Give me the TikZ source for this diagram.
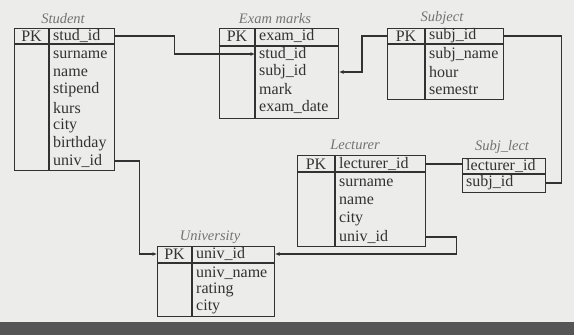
\documentclass[tikz,border=0pt]{standalone}
\usepackage{fontspec}
\setmainfont{Liberation Serif}
\usetikzlibrary{arrows.meta}

\definecolor{paper}{RGB}{236,236,234}
\definecolor{scanband}{RGB}{85,85,85}
\definecolor{ink}{RGB}{50,50,50}

\begin{document}
\begin{tikzpicture}[x=1pt,y=-1pt,
  every node/.style={text=ink,font=\fontsize{16}{18}\selectfont},
  tablebox/.style={draw=ink,line width=1.1pt,anchor=north west,inner sep=0pt},
  rule/.style={draw=ink,line width=1.1pt},
  field/.style={anchor=west,inner xsep=4pt,inner ysep=0pt},
  pk/.style={inner sep=0pt},
  tabletitle/.style={inner sep=0pt,text=black!55,font=\fontsize{14.5}{16}\selectfont\itshape},
  link/.style={draw=ink,line width=1.1pt},
  fk/.style={-{Latex[length=4.5pt,width=4pt]}}
]
  \useasboundingbox (0,0) rectangle (574,335);
  \fill[paper] (0,0) rectangle (574,335);
  \fill[scanband] (0,322) rectangle (574,335);

  % Student
  \node[tablebox,minimum width=100pt,minimum height=142pt] (student) at (14,28) {};
  \draw[rule] (49,28) -- (49,170) (14,44) -- (114,44);
  \node[tabletitle] (student-t) at (63,19) {Student};
  \node[pk] (student-pk) at (31.5,36) {PK};
  \node[field] (st-id) at (49,36) {stud\_id};
  \node[field] (st-surname) at (49,55) {surname};
  \node[field] (st-name) at (49,73) {name};
  \node[field] (st-stipend) at (49,90) {stipend};
  \node[field] (st-kurs) at (49,108) {kurs};
  \node[field] (st-city) at (49,126) {city};
  \node[field] (st-birthday) at (49,144) {birthday};
  \node[field] (st-univ) at (49,161) {univ\_id};

  % Exam marks
  \node[tablebox,minimum width=119pt,minimum height=90pt] (exam) at (219,28) {};
  \draw[rule] (255,28) -- (255,118) (219,46) -- (338,46);
  \node[tabletitle] (exam-t) at (275,19) {Exam marks};
  \node[pk] (exam-pk) at (237,36) {PK};
  \node[field] (ex-id) at (255,36) {exam\_id};
  \node[field] (ex-sid) at (255,54) {stud\_id};
  \node[field] (ex-subj) at (255,72) {subj\_id};
  \node[field] (ex-mark) at (255,89) {mark};
  \node[field] (ex-date) at (255,107) {exam\_date};

  % Subject
  \node[tablebox,minimum width=116pt,minimum height=71pt] (subject) at (387,28) {};
  \draw[rule] (425,28) -- (425,99) (387,44) -- (503,44);
  \node[tabletitle] (subject-t) at (442,18) {Subject};
  \node[pk] (subject-pk) at (406,36) {PK};
  \node[field] (sb-id) at (425,36) {subj\_id};
  \node[field] (sb-name) at (425,55) {subj\_name};
  \node[field] (sb-hour) at (425,72) {hour};
  \node[field] (sb-sem) at (425,90) {semestr};

  % Lecturer
  \node[tablebox,minimum width=128pt,minimum height=91pt] (lecturer) at (297,155) {};
  \draw[rule] (335,155) -- (335,246) (297,172) -- (425,172);
  \node[tabletitle] (lecturer-t) at (355,145) {Lecturer};
  \node[pk] (lecturer-pk) at (316,164) {PK};
  \node[field] (lc-id) at (335,164) {lecturer\_id};
  \node[field] (lc-surname) at (335,183) {surname};
  \node[field] (lc-name) at (335,201) {name};
  \node[field] (lc-city) at (335,219) {city};
  \node[field] (lc-univ) at (335,237) {univ\_id};

  % Subj_lect
  \node[tablebox,minimum width=83pt,minimum height=34pt] (sl) at (462,158) {};
  \draw[rule] (462,174) -- (545,174);
  \node[tabletitle] (sl-t) at (502,147) {Subj\_lect};
  \node[field] (sl-lect) at (462,166) {lecturer\_id};
  \node[field] (sl-subj) at (462,183) {subj\_id};

  % University
  \node[tablebox,minimum width=117pt,minimum height=70pt] (university) at (157,246) {};
  \draw[rule] (192,246) -- (192,316) (157,263) -- (274,263);
  \node[tabletitle] (university-t) at (210,237) {University};
  \node[pk] (university-pk) at (174.5,254) {PK};
  \node[field] (un-id) at (192,254) {univ\_id};
  \node[field] (un-name) at (192,273) {univ\_name};
  \node[field] (un-rating) at (192,290) {rating};
  \node[field] (un-city) at (192,307) {city};

  % links
  \draw[link,fk] (student.east |- st-id) -- ++(59,0) |- (ex-sid.west);
  \draw[link,fk] (subject.west |- sb-id) -- ++(-25,0) |- (exam.east |- ex-subj);
  \draw[link] (subject.east |- sb-id) -- ++(57,0) |- (sl.east |- sl-subj);
  \draw[link] (lecturer.east |- lc-id) -- (sl.west |- lc-id);
  \draw[link,fk] (lecturer.east |- lc-univ) -- ++(30,0) |- (university.east |- un-id);
  \draw[link,fk] (student.east |- st-univ) -- ++(24,0) |- (university.west |- un-id);
\end{tikzpicture}
\end{document}
